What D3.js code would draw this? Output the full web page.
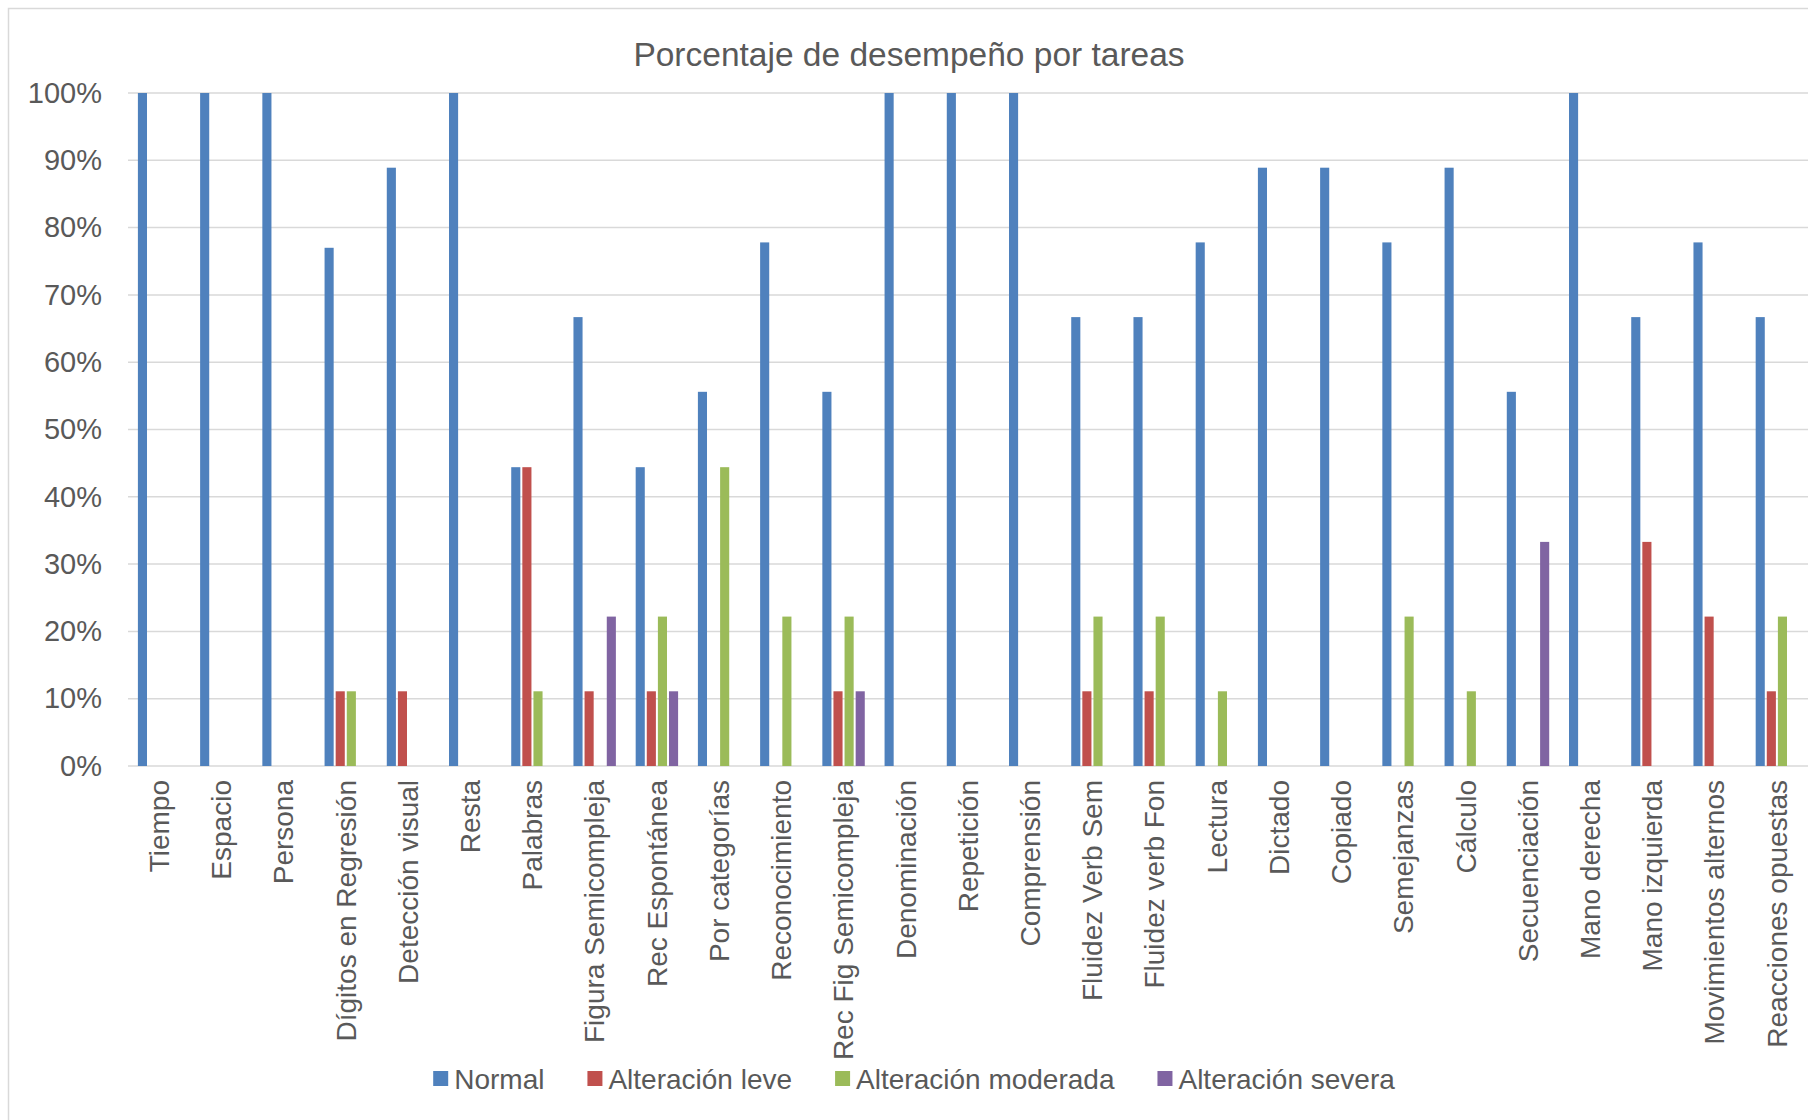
<!DOCTYPE html>
<html>
<head>
<meta charset="utf-8">
<script src="https://cdn.jsdelivr.net/npm/d3@7"></script>
<style>
  body { margin: 0; background: #fff; }
  text { font-family: "Liberation Sans", Arial, sans-serif; fill: #595959; }
</style>
</head>
<body>
<div id="chart"></div>
<script>
// categories (tasks)
var tareas = ["Tiempo", "Espacio", "Persona", "Dígitos en Regresión", "Detección visual",
  "Resta", "Palabras", "Figura Semicompleja", "Rec Espontánea", "Por categorías",
  "Reconocimiento", "Rec Fig Semicompleja", "Denominación", "Repetición", "Comprensión",
  "Fluidez Verb Sem", "Fluidez verb Fon", "Lectura", "Dictado", "Copiado", "Semejanzas",
  "Cálculo", "Secuenciación", "Mano derecha", "Mano izquierda", "Movimientos alternos",
  "Reacciones opuestas"];

var series = ["Normal", "Alteración leve", "Alteración moderada", "Alteración severa"];

// values in %
var normal   = [100, 100, 100, 77, 88.9, 100, 44.4, 66.7, 44.4, 55.6, 77.8, 55.6, 100, 100, 100,
  66.7, 66.7, 77.8, 88.9, 88.9, 77.8, 88.9, 55.6, 100, 66.7, 77.8, 66.7];
var leve     = [0, 0, 0, 11.1, 11.1, 0, 44.4, 11.1, 11.1, 0, 0, 11.1, 0, 0, 0,
  11.1, 11.1, 0, 0, 0, 0, 0, 0, 0, 33.3, 22.2, 11.1];
var moderada = [0, 0, 0, 11.1, 0, 0, 11.1, 0, 22.2, 44.4, 22.2, 22.2, 0, 0, 0,
  22.2, 22.2, 11.1, 0, 0, 22.2, 11.1, 0, 0, 0, 0, 22.2];
var severa   = [0, 0, 0, 0, 0, 0, 0, 22.2, 11.1, 0, 0, 11.1, 0, 0, 0,
  0, 0, 0, 0, 0, 0, 0, 33.3, 0, 0, 0, 0];

var yTicks = [0, 10, 20, 30, 40, 50, 60, 70, 80, 90, 100];
var colors = ["#4F81BD", "#C0504D", "#9BBB59", "#8064A2"];

var W = 1808, H = 1120;
var plotLeft = 128, plotRight = 1808, plotTop = 93, plotBottom = 766;

var rows = tareas.map(function (t, i) {
  return { tarea: t, vals: [normal[i], leve[i], moderada[i], severa[i]] };
});

var svg = d3.select("#chart").append("svg")
  .attr("width", W)
  .attr("height", H);

// chart area border
svg.append("rect")
  .attr("x", 8.5).attr("y", 8.5)
  .attr("width", 1900).attr("height", 1200)
  .attr("fill", "#fff")
  .attr("stroke", "#D9D9D9")
  .attr("stroke-width", 1.5);

var x0 = d3.scaleBand()
  .domain(tareas)
  .range([plotLeft, plotRight])
  .paddingInner(0.286)
  .paddingOuter(0.143);

var x1 = d3.scaleBand()
  .domain(d3.range(series.length))
  .range([0, x0.bandwidth()]);

var y = d3.scaleLinear()
  .domain([0, 100])
  .range([plotBottom, plotTop]);

// grid lines
svg.append("g")
  .selectAll("line")
  .data(yTicks)
  .enter()
  .append("line")
  .attr("x1", plotLeft)
  .attr("x2", plotRight)
  .attr("y1", function (d) { return y(d); })
  .attr("y2", function (d) { return y(d); })
  .attr("stroke", "#D9D9D9")
  .attr("stroke-width", 1.5);

// y axis labels
var yAxis = d3.axisLeft(y)
  .tickValues(yTicks)
  .tickFormat(function (d) { return d + "%"; })
  .tickSize(0)
  .tickPadding(26);

var gy = svg.append("g")
  .attr("transform", "translate(" + plotLeft + ",0)")
  .call(yAxis);
gy.select(".domain").remove();
gy.selectAll("text")
  .attr("font-size", "29px")
  .attr("fill", "#595959")
  .attr("font-family", "Liberation Sans, Arial, sans-serif");

// bars
var groups = svg.append("g")
  .selectAll("g")
  .data(rows)
  .enter()
  .append("g")
  .attr("transform", function (d) { return "translate(" + x0(d.tarea) + ",0)"; });

groups.selectAll("rect")
  .data(function (d) { return d.vals; })
  .enter()
  .append("rect")
  .attr("x", function (d, i) { return x1(i) + 1; })
  .attr("width", x1.bandwidth() - 2)
  .attr("y", function (d) { return y(d); })
  .attr("height", function (d) { return plotBottom - y(d); })
  .attr("fill", function (d, i) { return colors[i]; });

// x axis labels (rotated)
var xAxis = d3.axisBottom(x0).tickSize(0).tickPadding(0);
var gx = svg.append("g")
  .attr("transform", "translate(0," + plotBottom + ")")
  .call(xAxis);
gx.select(".domain").remove();
gx.selectAll("text")
  .attr("font-size", "28px")
  .attr("fill", "#595959")
  .attr("font-family", "Liberation Sans, Arial, sans-serif")
  .attr("text-anchor", "end")
  .attr("dy", "0.35em")
  .attr("transform", "translate(0,14) rotate(-90)")
  .attr("x", 0)
  .attr("y", 0);

// title
svg.append("text")
  .attr("x", 909)
  .attr("y", 66)
  .attr("text-anchor", "middle")
  .attr("font-size", "33.5px")
  .text("Porcentaje de desempeño por tareas");

// legend
var legend = svg.append("g");
var lx = 0;
series.forEach(function (s, i) {
  var item = legend.append("g").attr("transform", "translate(" + lx + ",0)");
  item.append("rect")
    .attr("x", 0).attr("y", -18)
    .attr("width", 15).attr("height", 15)
    .attr("fill", colors[i]);
  var t = item.append("text")
    .attr("x", 21)
    .attr("y", 0)
    .attr("font-size", "28px")
    .text(s);
  lx += 21 + t.node().getComputedTextLength() + 43;
});
var legendW = lx - 43;
legend.attr("transform", "translate(" + (914 - legendW / 2) + ",1089)");
</script>
</body>
</html>
